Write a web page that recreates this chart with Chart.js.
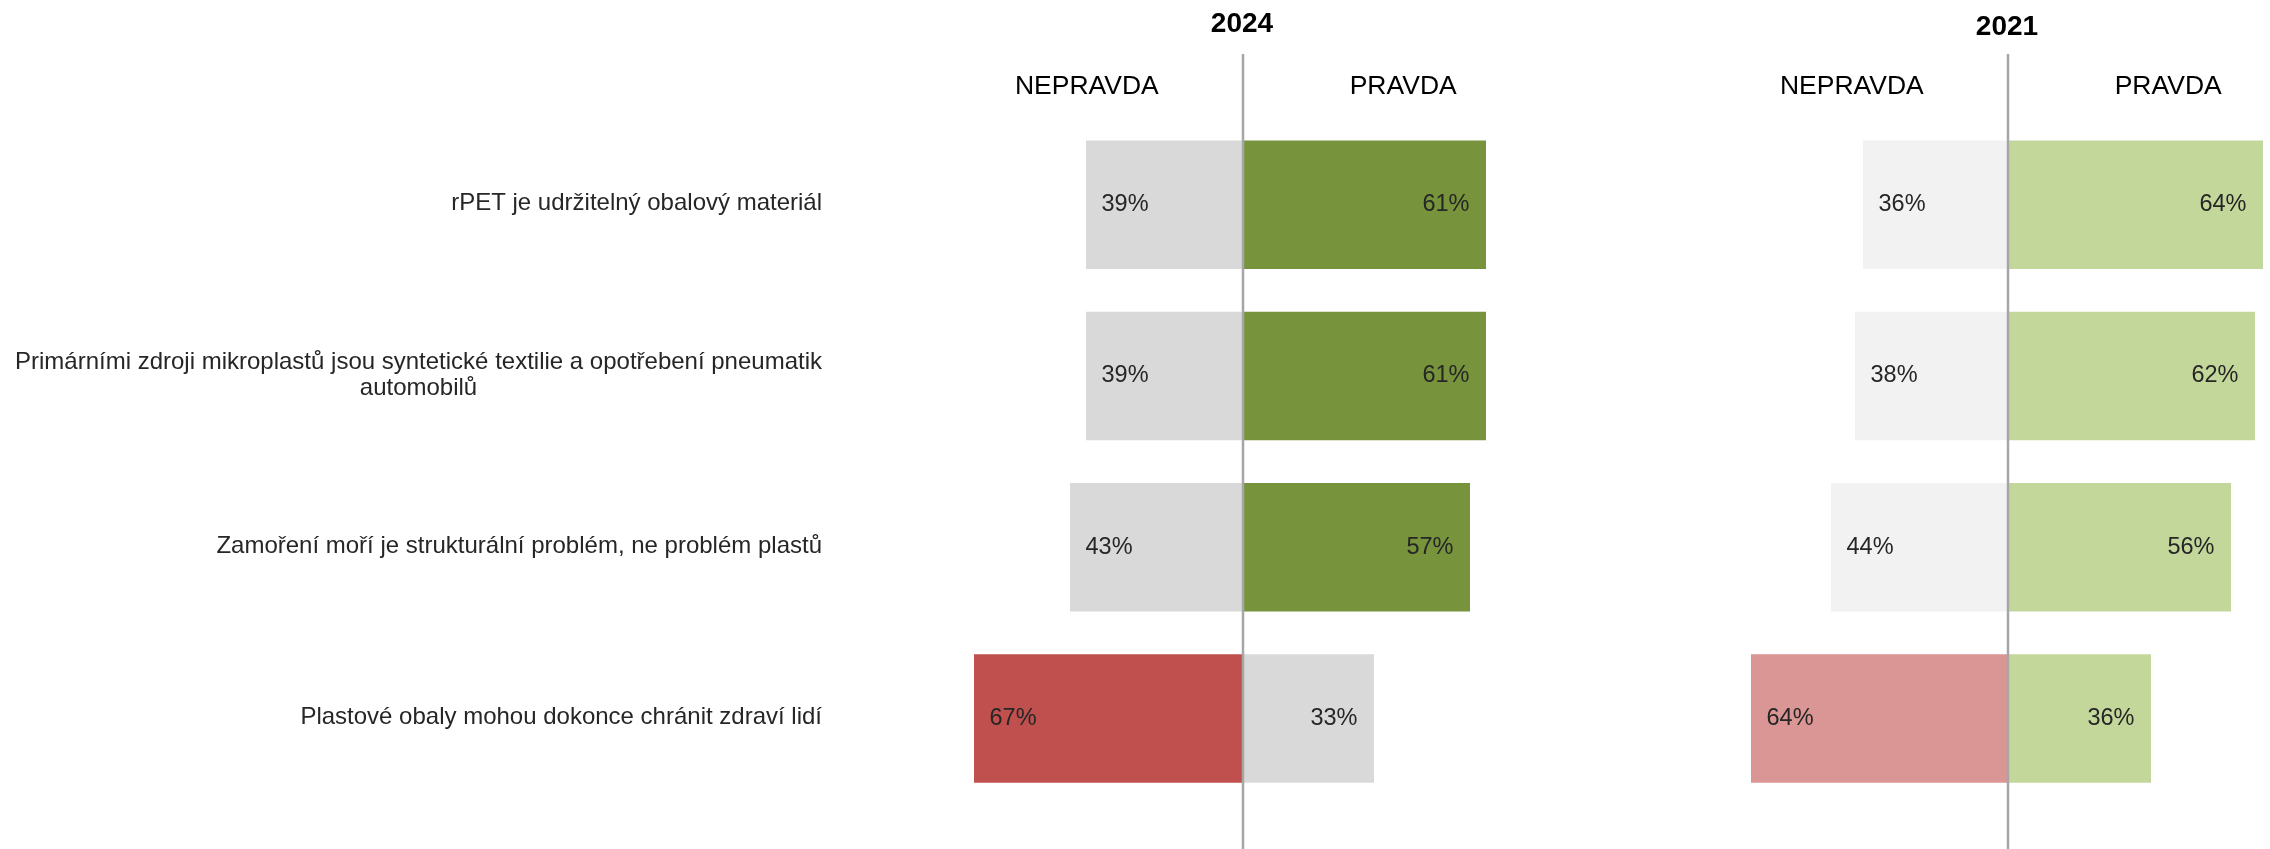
<!DOCTYPE html>
<html>
<head>
<meta charset="utf-8">
<script src="https://cdn.jsdelivr.net/npm/chart.js@4"></script>
<style>
html,body{margin:0;padding:0;background:#fff;}
#wrap{position:relative;width:2270px;height:849px;overflow:hidden;}
#cA{position:absolute;left:0;top:0;}
#cB{position:absolute;left:1640px;top:0;}
</style>
</head>
<body>
<div id="wrap">
<canvas id="cA" width="1640" height="849"></canvas>
<canvas id="cB" width="630" height="849"></canvas>
</div>
<script>
// ---- data ----
const categories = [
  ["rPET je udržitelný obalový materiál"],
  ["Primárními zdroji mikroplastů jsou syntetické textilie a opotřebení pneumatik", "automobilů"],
  ["Zamoření moří je strukturální problém, ne problém plastů"],
  ["Plastové obaly mohou dokonce chránit zdraví lidí"]
];
const panelTitles = ["2024", "2021"];
const sideLabels = ["NEPRAVDA", "PRAVDA"];
const nepravda2024 = [39, 39, 43, 67];
const pravda2024   = [61, 61, 57, 33];
const nepravda2021 = [36, 38, 44, 64];
const pravda2021   = [64, 62, 56, 36];

// ---- styles ----
const colNep2024 = ["#d9d9d9", "#d9d9d9", "#d9d9d9", "#c0504d"];
const colPra2024 = ["#77933c", "#77933c", "#77933c", "#d9d9d9"];
const colNep2021 = ["#f2f2f2", "#f2f2f2", "#f2f2f2", "#da9694"];
const colPra2021 = ["#c4d79b", "#c4d79b", "#c4d79b", "#c4d79b"];
const FONT = "'Liberation Sans', Arial, Helvetica, sans-serif";

function overlayPlugin(title, titleY, drawCats) {
  return {
    id: 'overlay',
    afterDatasetsDraw(chart) {
      const ctx = chart.ctx;
      const xs = chart.scales.x, ys = chart.scales.y;
      const x0 = xs.getPixelForValue(0);
      ctx.save();
      // data labels
      ctx.font = "23.5px " + FONT;
      ctx.fillStyle = "#262626";
      ctx.textBaseline = "middle";
      chart.data.datasets.forEach((ds, di) => {
        const meta = chart.getDatasetMeta(di);
        meta.data.forEach((el, i) => {
          const v = ds.data[i];
          const txt = Math.abs(v) + "%";
          if (v < 0) { ctx.textAlign = "left"; ctx.fillText(txt, el.x + 15.5, el.y); }
          else { ctx.textAlign = "right"; ctx.fillText(txt, el.x - 16.5, el.y); }
        });
      });
      // zero line
      ctx.strokeStyle = "#a6a6a6";
      ctx.lineWidth = 2.5;
      ctx.beginPath();
      ctx.moveTo(x0 + 1, 54);
      ctx.lineTo(x0 + 1, chart.height);
      ctx.stroke();
      // title
      ctx.fillStyle = "#000";
      ctx.textAlign = "center";
      ctx.font = "bold 28px " + FONT;
      ctx.fillText(title, x0, titleY);
      // side headers
      ctx.font = "26.5px " + FONT;
      ctx.fillText(sideLabels[0], xs.getPixelForValue(-38.8), 87);
      ctx.fillText(sideLabels[1], xs.getPixelForValue(40.3), 87);
      // category labels
      if (drawCats) {
        ctx.font = "24px " + FONT;
        ctx.fillStyle = "#262626";
        const right = chart.chartArea.left - 140;
        const lh = 26;
        categories.forEach((lines, i) => {
          const cy = ys.getPixelForValue(i);
          let maxW = 0;
          lines.forEach(l => { maxW = Math.max(maxW, ctx.measureText(l).width); });
          const cx = right - maxW / 2;
          const startY = cy - (lines.length - 1) * lh / 2;
          ctx.textAlign = "center";
          lines.forEach((l, k) => ctx.fillText(l, cx, startY + k * lh - 1));
        });
      }
      ctx.restore();
    }
  };
}

function makeChart(id, nep, pra, cNep, cPra, title, titleY, padL, padR, drawCats) {
  return new Chart(document.getElementById(id), {
    type: 'bar',
    data: {
      labels: categories.map(c => c.join(" ")),
      datasets: [
        { label: sideLabels[0], data: nep.map(v => -v), backgroundColor: cNep, borderWidth: 0 },
        { label: sideLabels[1], data: pra, backgroundColor: cPra, borderWidth: 0 }
      ]
    },
    options: {
      indexAxis: 'y',
      responsive: false,
      animation: false,
      events: [],
      layout: { padding: { left: padL, right: padR, top: 119, bottom: 44.8 } },
      datasets: { bar: { categoryPercentage: 0.75, barPercentage: 1.0 } },
      scales: {
        x: { display: false, stacked: true, min: -70, max: 65 },
        y: { display: false, stacked: true }
      },
      plugins: { legend: { display: false }, tooltip: { enabled: false }, title: { display: false } }
    },
    plugins: [overlayPlugin(title, titleY, drawCats)]
  });
}

makeChart('cA', nepravda2024, pravda2024, colNep2024, colPra2024, panelTitles[0], 24.5, 962, 138, true);
makeChart('cB', nepravda2021, pravda2021, colNep2021, colPra2021, panelTitles[1], 27.5, 87, 3, false);
</script>
</body>
</html>
